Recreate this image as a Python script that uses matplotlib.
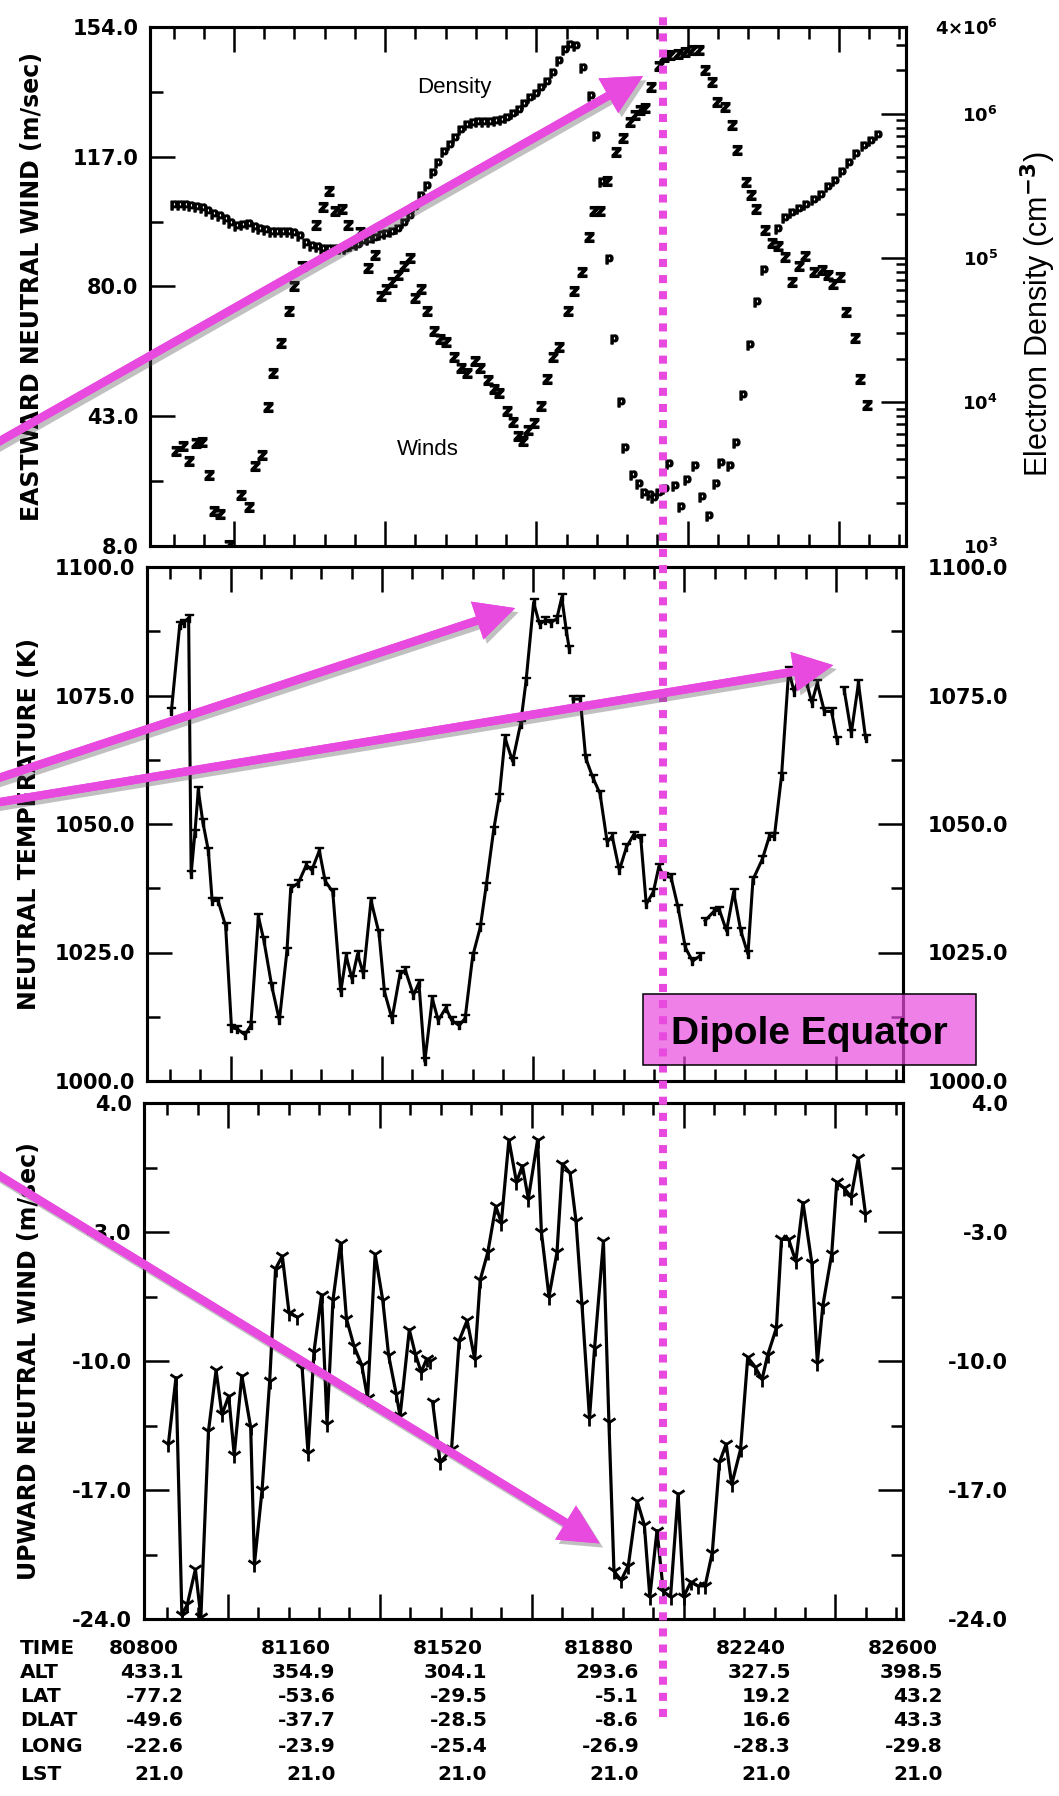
import numpy as np
import matplotlib
matplotlib.use("Agg")
import matplotlib.pyplot as plt
import matplotlib.patheffects as pe
from matplotlib import transforms
from matplotlib.lines import Line2D
from matplotlib.patches import Rectangle, ConnectionPatch
from matplotlib.ticker import FixedLocator, MultipleLocator, LogLocator, NullFormatter

nan = np.nan

# ---- top panel: eastward neutral wind (m/s) and electron density (cm^-3)
wind_time = [80862, 80878, 80892, 80909, 80923, 80940, 80953, 80967, 80987, 81017,
             81035, 81049, 81067, 81081, 81094, 81113, 81131, 81144, 81163, 81195,
             81213, 81226, 81240, 81258, 81272, 81299, 81318, 81336, 81349, 81363,
             81377, 81390, 81404, 81418, 81431, 81445, 81459, 81477, 81491, 81505,
             81523, 81541, 81555, 81573, 81586, 81605, 81618, 81632, 81650, 81664,
             81677, 81687, 81700, 81714, 81732, 81746, 81760, 81773, 81796, 81809,
             81828, 81846, 81858, 81871, 81888, 81909, 81926, 81943, 81955, 81967,
             81979, 81994, 82011, 82023, 82039, 82057, 82074, 82091, 82108, 82121,
             82138, 82151, 82168, 82185, 82197, 82219, 82231, 82244, 82265, 82282,
             82295, 82312, 82329, 82346, 82359, 82380, 82401, 82414, 82427, 82444,
             82456, 82478, 82490, 82507]
wind_speed = [34.8, 36.0, 32.0, 37.0, 37.3, 27.9, 17.9, 16.9, 8.4, 22.4,
              18.9, 30.4, 33.5, 47.0, 56.6, 65.1, 74.2, 81.2, 86.7, 98.3,
              103.3, 107.8, 102.3, 102.8, 98.3, 96.3, 86.2, 89.8, 78.2, 80.2,
              82.2, 84.2, 86.7, 89.0, 77.7, 80.2, 74.2, 68.6, 66.1, 65.3,
              61.1, 58.1, 56.6, 60.1, 58.1, 54.6, 52.1, 51.1, 46.0, 43.0,
              39.0, 37.5, 40.5, 42.5, 47.5, 55.1, 61.1, 64.1, 74.2, 79.7,
              85.2, 94.8, 102.3, 102.3, 110.8, 118.9, 122.9, 127.4, 129.2, 130.6,
              131.2, 137.0, 143.0, 145.5, 146.0, 146.5, 147.0, 147.5, 147.5, 142.0,
              138.5, 133.0, 131.5, 126.4, 119.4, 110.3, 106.8, 102.8, 96.8, 93.3,
              92.3, 89.2, 82.2, 86.7, 89.7, 85.2, 85.7, 84.2, 81.7, 83.7,
              73.7, 66.6, 55.1, 47.6]

dens_time = [80857, 80871, 80885, 80898, 80912, 80926, 80939, 80953, 80967, 80980,
             80994, 81008, 81021, 81035, 81049, 81062, 81076, 81090, 81103, 81117,
             81131, 81144, 81158, 81172, 81185, 81199, 81213, 81226, 81240, 81254,
             81267, 81281, 81295, 81308, 81322, 81336, 81349, 81363, 81377, 81390,
             81404, 81418, 81431, 81445, 81459, 81473, 81486, 81500, 81514, 81527,
             81541, 81554, 81568, 81582, 81596, 81609, 81623, 81637, 81650, 81664,
             81678, 81691, 81705, 81718, 81732, 81746, 81759, 81773, 81787, 81800,
             81814, 81832, 81849, 81862, 81875, 81892, 81905, 81922, 81932, 81951,
             81964, 81977, 81990, 82000, 82012, 82025, 82036, 82049, 82064, 82079,
             82098, 82115, 82130, 82147, 82159, 82180, 82195, 82212, 82229, 82246,
             82263, 82295, 82312, 82329, 82346, 82363, 82380, 82397, 82414, 82431,
             82448, 82465, 82482, 82499, 82516, 82533]
dens_value = [2.31e5, 2.31e5, 2.31e5, 2.29e5, 2.24e5, 2.22e5, 2.12e5, 2.03e5, 1.95e5, 1.87e5,
              1.74e5, 1.67e5, 1.69e5, 1.71e5, 1.64e5, 1.59e5, 1.55e5, 1.52e5, 1.52e5, 1.52e5,
              1.52e5, 1.49e5, 1.42e5, 1.27e5, 1.20e5, 1.19e5, 1.16e5, 1.16e5, 1.16e5, 1.15e5,
              1.15e5, 1.20e5, 1.23e5, 1.31e5, 1.34e5, 1.38e5, 1.44e5, 1.46e5, 1.52e5, 1.59e5,
              1.74e5, 1.95e5, 2.24e5, 2.67e5, 3.16e5, 3.86e5, 4.58e5, 5.43e5, 6.10e5, 6.84e5,
              7.66e5, 8.34e5, 8.59e5, 8.73e5, 8.83e5, 8.83e5, 8.93e5, 9.10e5, 9.35e5, 9.91e5,
              1.06e6, 1.17e6, 1.28e6, 1.38e6, 1.52e6, 1.67e6, 1.91e6, 2.33e6, 2.77e6, 3.01e6,
              2.97e6, 2.08e6, 1.32e6, 7.03e5, 3.35e5, 9.82e4, 2.72e4, 1.00e4, 4.76e3, 3.10e3,
              2.69e3, 2.33e3, 2.27e3, 2.14e3, 2.33e3, 2.47e3, 3.68e3, 2.62e3, 1.86e3, 2.85e3,
              3.58e3, 2.20e3, 1.61e3, 2.69e3, 3.79e3, 3.58e3, 5.19e3, 1.12e4, 2.49e4, 4.94e4,
              8.26e4, 1.59e5, 1.89e5, 2.06e5, 2.18e5, 2.31e5, 2.52e5, 2.74e5, 3.08e5, 3.44e5,
              3.97e5, 4.58e5, 5.28e5, 5.93e5, 6.46e5, 7.11e5]

# ---- middle panel: neutral temperature (K), nan marks a data gap
temp_time = [80859, 80879, 80888, 80900, 80906, 80915, 80923, 80934, 80947, 80956,
             80970, 80988, 81002, 81016, 81034, 81048, 81066, 81079, 81098, 81116,
             81134, 81143, 81161, 81180, 81193, 81211, 81225, 81243, 81262, 81275,
             81289, 81302, 81316, 81334, 81353, 81366, 81384, 81403, 81416, 81435,
             81448, 81462, 81480, 81494, 81512, 81526, 81544, 81558, 81576, 81594,
             81608, 81626, 81639, 81653, 81671, 81690, 81703, 81721, 81735, 81749,
             81762, 81776, 81788, 81799, 81806, nan,
             81815, 81832, 81845, 81862, 81879, 81896, 81908, 81925, 81942, 81959,
             81976, 81989, 82006, 82019, 82031, 82048, 82065, 82082, 82099, 82116, nan,
             82129, 82150, 82163, 82180, 82197, 82214, 82231, 82243, 82265, 82282,
             82294, 82311, 82328, 82341, 82354, 82371, 82383, 82396, 82413, 82430,
             82443, nan,
             82460, 82477, 82494, 82511]
temp_value = [1072.0, 1088.8, 1089.1, 1090.1, 1040.3, 1048.3, 1056.6, 1050.3, 1044.8, 1035.1,
              1035.1, 1030.2, 1010.4, 1010.1, 1009.0, 1010.8, 1032.0, 1027.4, 1018.4, 1011.8,
              1025.3, 1037.5, 1038.5, 1042.0, 1041.0, 1044.8, 1038.9, 1036.8, 1017.4, 1024.3,
              1019.8, 1024.7, 1020.8, 1035.1, 1028.8, 1017.4, 1012.1, 1020.8, 1021.5, 1016.7,
              1019.1, 1003.8, 1016.0, 1011.8, 1014.2, 1011.8, 1010.8, 1012.2, 1024.3, 1029.9,
              1037.9, 1048.9, 1055.2, 1066.7, 1062.2, 1069.5, 1077.8, 1093.1, 1088.9, 1089.6,
              1089.2, 1089.9, 1094.1, 1087.5, 1084.0, nan,
              1074.3, 1074.3, 1062.8, 1059.0, 1055.9, 1046.5, 1047.6, 1041.0, 1045.5, 1047.9,
              1047.2, 1034.4, 1036.8, 1041.7, 1039.9, 1039.6, 1033.7, 1026.0, 1023.3, 1024.3, nan,
              1031.2, 1033.0, 1033.3, 1029.2, 1036.8, 1029.2, 1024.7, 1039.2, 1043.1, 1047.6,
              1047.6, 1059.4, 1079.9, 1075.7, 1078.8, 1077.4, 1073.6, 1077.4, 1071.9, 1071.9,
              1066.3, nan,
              1076.1, 1067.7, 1077.4, 1066.7]

# ---- bottom panel: upward neutral wind (m/s), nan marks a data gap
upw_time = [80859, 80877, 80891, 80904, 80923, 80936, 80954, 80972, 80986, 81002,
            81015, 81033, 81054, 81063, 81081, 81099, 81113, 81129, 81145, 81163, nan,
            81176, 81190, 81204, 81222, 81235, 81249, 81267, 81281, 81299, 81317,
            81331, 81349, 81367, 81381, 81399, 81408, 81430, 81444, 81458, 81471,
            81480, nan,
            81485, 81503, 81530, 81548, 81567, 81585, 81598, 81616, 81635, 81648,
            81666, 81684, 81698, 81712, 81734, 81743, 81761, 81780, 81793, 81811,
            81825, 81839, 81857, 81869, 81890, 81903, 81915, 81932, 81949, 81970,
            81987, 82000, 82017, 82032, 82049, 82067, 82080, 82097, 82114, 82131,
            82148, 82165, 82181, 82194, 82215, 82232, 82249, 82266, 82279, 82300,
            82312, 82329, 82346, 82363, 82384, 82397, 82410, 82431, 82443, 82460,
            82477, 82494, 82511]
upw_value = [-14.5, -10.9, -23.8, -23.2, -21.3, -23.9, -13.8, -10.5, -12.9, -11.9,
             -15.1, -10.8, -13.6, -21.0, -17.0, -11.1, -5.0, -4.3, -7.4, -7.6, nan,
             -10.4, -15.0, -9.5, -6.4, -13.4, -6.7, -3.6, -7.7, -9.2, -10.2,
             -12.0, -4.2, -6.7, -9.7, -11.8, -13.0, -8.3, -9.6, -10.6, -9.9,
             -10.0, nan,
             -12.2, -15.5, -14.8, -8.9, -7.8, -9.9, -5.6, -4.1, -1.6, -2.5,
             2.0, -0.3, 0.6, -1.2, 2.0, -3.0, -6.5, -4.1, 0.7, 0.2,
             -2.4, -6.9, -13.1, -9.3, -3.5, -13.3, -21.4, -21.9, -21.1, -17.6,
             -18.9, -22.8, -19.2, -22.5, -22.8, -17.2, -22.8, -22.0, -22.2, -22.2,
             -20.4, -15.5, -14.5, -16.7, -14.8, -9.8, -10.3, -11.0, -9.7, -8.2,
             -3.4, -3.4, -4.6, -1.4, -4.7, -10.1, -7.0, -4.2, -0.3, -0.6,
             -1.1, 1.0, -2.0]

# ---- orbit table under the time axis
time_ticks = [80800, 81160, 81520, 81880, 82240, 82600]
alt_row = ["433.1", "354.9", "304.1", "293.6", "327.5", "398.5"]
lat_row = ["-77.2", "-53.6", "-29.5", "-5.1", "19.2", "43.2"]
dlat_row = ["-49.6", "-37.7", "-28.5", "-8.6", "16.6", "43.3"]
long_row = ["-22.6", "-23.9", "-25.4", "-26.9", "-28.3", "-29.8"]
lst_row = ["21.0", "21.0", "21.0", "21.0", "21.0", "21.0"]

equator_time = 82032

wind_labels = ["8.0", "43.0", "80.0", "117.0", "154.0"]
temp_labels = ["1000.0", "1025.0", "1050.0", "1075.0", "1100.0"]
upw_labels = ["-24.0", "-17.0", "-10.0", "-3.0", "4.0"]
dens_ticks = [1e3, 1e4, 1e5, 1e6, 4e6]
dens_labels = [r"$\mathbf{10^{3}}$", r"$\mathbf{10^{4}}$", r"$\mathbf{10^{5}}$",
               r"$\mathbf{10^{6}}$", r"$\mathbf{4{\times}10^{6}}$"]

MAGENTA = "#E84ADF"
W, H = 1059, 1796

plt.rcParams["font.family"] = ["DejaVu Sans"]
plt.rcParams["font.weight"] = "bold"
plt.rcParams["axes.linewidth"] = 2.2

fig = plt.figure(figsize=(W / 100, H / 100), dpi=100)


def px_box(left, top, right, bottom):
    return [left / W, 1 - bottom / H, (right - left) / W, (bottom - top) / H]


def time_axis(ax):
    ax.set_xlim(80800, 82600)
    ax.xaxis.set_major_locator(MultipleLocator(360))
    ax.xaxis.set_minor_locator(MultipleLocator(72))
    ax.tick_params(axis="x", which="both", direction="in", top=True, bottom=True,
                   labelbottom=False, width=1.8)
    ax.tick_params(axis="x", which="major", length=18)
    ax.tick_params(axis="x", which="minor", length=8.5)
    ax.set_facecolor("none")


def lin_y(ax, lo, hi, labels, side):
    ax.set_ylim(lo, hi)
    ax.set_yticks(np.linspace(lo, hi, 5), labels, fontsize=15, fontweight="bold", ha="right")
    ax.yaxis.set_minor_locator(FixedLocator(np.linspace(lo, hi, 9)[1::2]))
    if side == "left":
        ax.tick_params(axis="y", which="both", direction="in", left=True, right=False,
                       width=1.8, pad=8.5)
    else:
        ax.tick_params(axis="y", which="both", direction="in", left=False, right=True,
                       width=1.8, pad=75.6)
    ax.tick_params(axis="y", which="major", length=18)
    ax.tick_params(axis="y", which="minor", length=9)


def left_label(ax, text, xpos):
    ax.set_ylabel(text, fontsize=17, fontweight="bold", va="center")
    ax.yaxis.set_label_coords(xpos, 0.5)


# top panel
ax1 = fig.add_axes(px_box(150, 27, 906, 546))
time_axis(ax1)
ax1r = ax1.twinx()
lin_y(ax1, 8, 154, wind_labels, "left")
left_label(ax1, "EASTWARD NEUTRAL WIND (m/sec)", -0.156)
ax1.plot(wind_time, wind_speed, ls="none", marker=r"$\mathbf{z}$", ms=7, color="black")
ax1.text(0.402, 0.884, "Density", transform=ax1.transAxes, ha="center", va="center",
         fontsize=16, family="Liberation Sans", fontweight="normal")
ax1.text(0.368, 0.185, "Winds", transform=ax1.transAxes, ha="center", va="center",
         fontsize=16, family="Liberation Sans", fontweight="normal")

ax1r.set_yscale("log")
ax1r.set_ylim(1e3, 4e6)
ax1r.set_yticks(dens_ticks, dens_labels, fontsize=13, ha="right")
ax1r.yaxis.set_minor_locator(LogLocator(base=10, subs=np.arange(2, 10)))
ax1r.yaxis.set_minor_formatter(NullFormatter())
ax1r.tick_params(axis="y", which="both", direction="in", right=True, width=1.8, pad=66)
ax1r.tick_params(axis="y", which="major", length=18)
ax1r.tick_params(axis="y", which="minor", length=7)
ax1r.plot(dens_time, dens_value, ls="none", marker=r"$\mathbf{p}$", ms=6.5, color="black")
ax1r.set_ylabel("Electron Density (cm$^{-3}$)", fontsize=22, family="Liberation Sans",
                fontweight="normal", rotation=90, va="center")
ax1r.yaxis.set_label_coords(1.1746, 0.447)

# middle panel
ax2 = fig.add_axes(px_box(146.6, 567, 903, 1081))
time_axis(ax2)
ax2r = ax2.twinx()
lin_y(ax2, 1000, 1100, temp_labels, "left")
lin_y(ax2r, 1000, 1100, temp_labels, "right")
left_label(ax2, "NEUTRAL TEMPERATURE (K)", -0.1555)
ax2.plot(temp_time, temp_value, color="black", lw=2.2, marker=r"$\top$", ms=6)

# bottom panel
ax3 = fig.add_axes(px_box(143.5, 1103, 903, 1619))
time_axis(ax3)
ax3r = ax3.twinx()
lin_y(ax3, -24, 4, upw_labels, "left")
lin_y(ax3r, -24, 4, upw_labels, "right")
left_label(ax3, "UPWARD NEUTRAL WIND (m/sec)", -0.1508)
ax3.plot(upw_time, upw_value, color="black", lw=2.3, marker="1", ms=11, mew=2.0)

# orbit table
col_trans = transforms.blended_transform_factory(ax3.transData, fig.transFigure)
right_trans = transforms.offset_copy(col_trans, fig=fig, x=28.8, y=0, units="points")
rows = [("TIME", [str(t) for t in time_ticks], 1648),
        ("ALT", alt_row, 1672),
        ("LAT", lat_row, 1697),
        ("DLAT", dlat_row, 1721),
        ("LONG", long_row, 1746),
        ("LST", lst_row, 1775)]
for name, vals, ypx in rows:
    yf = 1 - ypx / H
    fig.text(20 / W, yf, name, ha="left", va="center", fontsize=14.5, fontweight="bold")
    for t, v in zip(time_ticks, vals):
        if name == "TIME":
            ax3.text(t, yf, v, transform=col_trans, ha="center", va="center",
                     fontsize=14.5, fontweight="bold")
        else:
            ax3.text(t, yf, v, transform=right_trans, ha="right", va="center",
                     fontsize=14.5, fontweight="bold")

# dipole equator marker
eq_trans = transforms.blended_transform_factory(ax3.transData, fig.transFigure)
fig.add_artist(Line2D([equator_time, equator_time], [1 - 1717 / H, 1 - 16 / H],
                      transform=eq_trans, color=MAGENTA, lw=5.8, ls=(0, (1, 1)),
                      dash_capstyle="butt", zorder=20))

# pointer arrows coming in from beyond the left edge (start given in px from top-left)
arrows = [(ax1, (81974, 140.2), (-40, 463.7)),
          (ax2, (81677, 1092.0), (-40, 790.7)),
          (ax2, (82434, 1080.9), (-40, 808.6)),
          (ax3, (81881, -19.9), (-40, 1151.5))]
for ax, tip, start in arrows:
    con = ConnectionPatch(xyA=(start[0] / W, 1 - start[1] / H), coordsA=fig.transFigure,
                          xyB=tip, coordsB="data", axesB=ax,
                          arrowstyle="simple,head_length=1.25,head_width=1.25,tail_width=0.26",
                          mutation_scale=23, fc=MAGENTA, ec="none", lw=0,
                          shrinkA=0, shrinkB=0, zorder=30, annotation_clip=False)
    con.set_path_effects([pe.withSimplePatchShadow(offset=(2.5, -3), shadow_rgbFace="0.3",
                                                   alpha=0.35), pe.Normal()])
    fig.add_artist(con)

fig.add_artist(Rectangle((643 / W, 1 - 1065 / H), 333 / W, 71 / H, transform=fig.transFigure,
                         fc=(232 / 255, 74 / 255, 223 / 255, 0.7), ec="black", lw=1.1, zorder=25))
fig.text(809 / W, 1 - 1043.6 / H, "Dipole Equator", ha="center", va="baseline", fontsize=28,
         family="Liberation Sans", fontweight="bold", zorder=26)

fig.savefig("out.png", dpi=100)
